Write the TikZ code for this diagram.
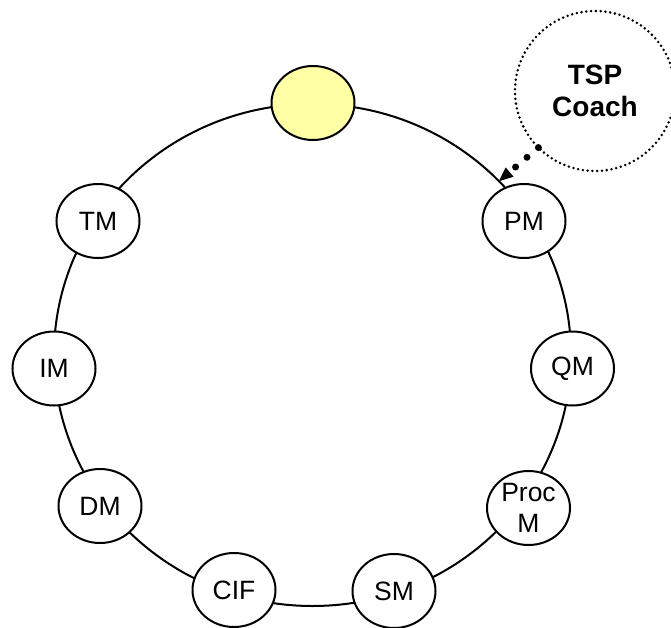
\documentclass[tikz,border=0pt]{standalone}
\usepackage{fontspec}
\setmainfont{Liberation Sans}
\usetikzlibrary{shapes.geometric,arrows.meta}
\definecolor{paleyellow}{RGB}{255,255,165}
\tikzset{
  role/.style={ellipse, draw, line width=2pt, fill=white, minimum width=83pt, minimum height=74pt, inner sep=0pt, outer sep=0pt, align=center, font=\fontsize{26.5}{30.5}\selectfont},
  ringline/.style={ellipse, draw, line width=2pt, minimum width=517pt, minimum height=502pt, inner sep=0pt, outer sep=0pt},
  coachcircle/.style={circle, draw, line width=2.8pt, dash pattern=on 0pt off 4.8pt, line cap=round, minimum size=160pt, inner sep=0pt, outer sep=0pt, align=center, font=\bfseries\fontsize{28}{32}\selectfont},
  coacharrow/.style={line width=7pt, line cap=round, dash pattern=on 0pt off 15pt, -{Triangle[length=14pt,width=12pt,line width=0.5pt]}}
}
\begin{document}
\begin{tikzpicture}[x=1pt,y=-1pt]
\useasboundingbox (0,0) rectangle (671,628);
\node[ringline] (ring) at (312.5,355) {};
\node[role, fill=paleyellow] (top) at (313,103) {};
\node[role] (tm) at (98,221) {TM};
\node[role] (pm) at (524,221) {PM};
\node[role] (im) at (54,368.5) {IM};
\node[role] (qm) at (572.5,368.5) {QM};
\node[role] (dm) at (100,506) {DM};
\node[role] (procm) at (528.5,508) {Proc\\M};
\node[role] (cif) at (234,590) {CIF};
\node[role] (sm) at (394,591) {SM};
\node[coachcircle] (coach) at (595,91) {TSP\\Coach};
\draw[coacharrow] (coach.225) -- (ring.43.6);
\end{tikzpicture}
\end{document}
